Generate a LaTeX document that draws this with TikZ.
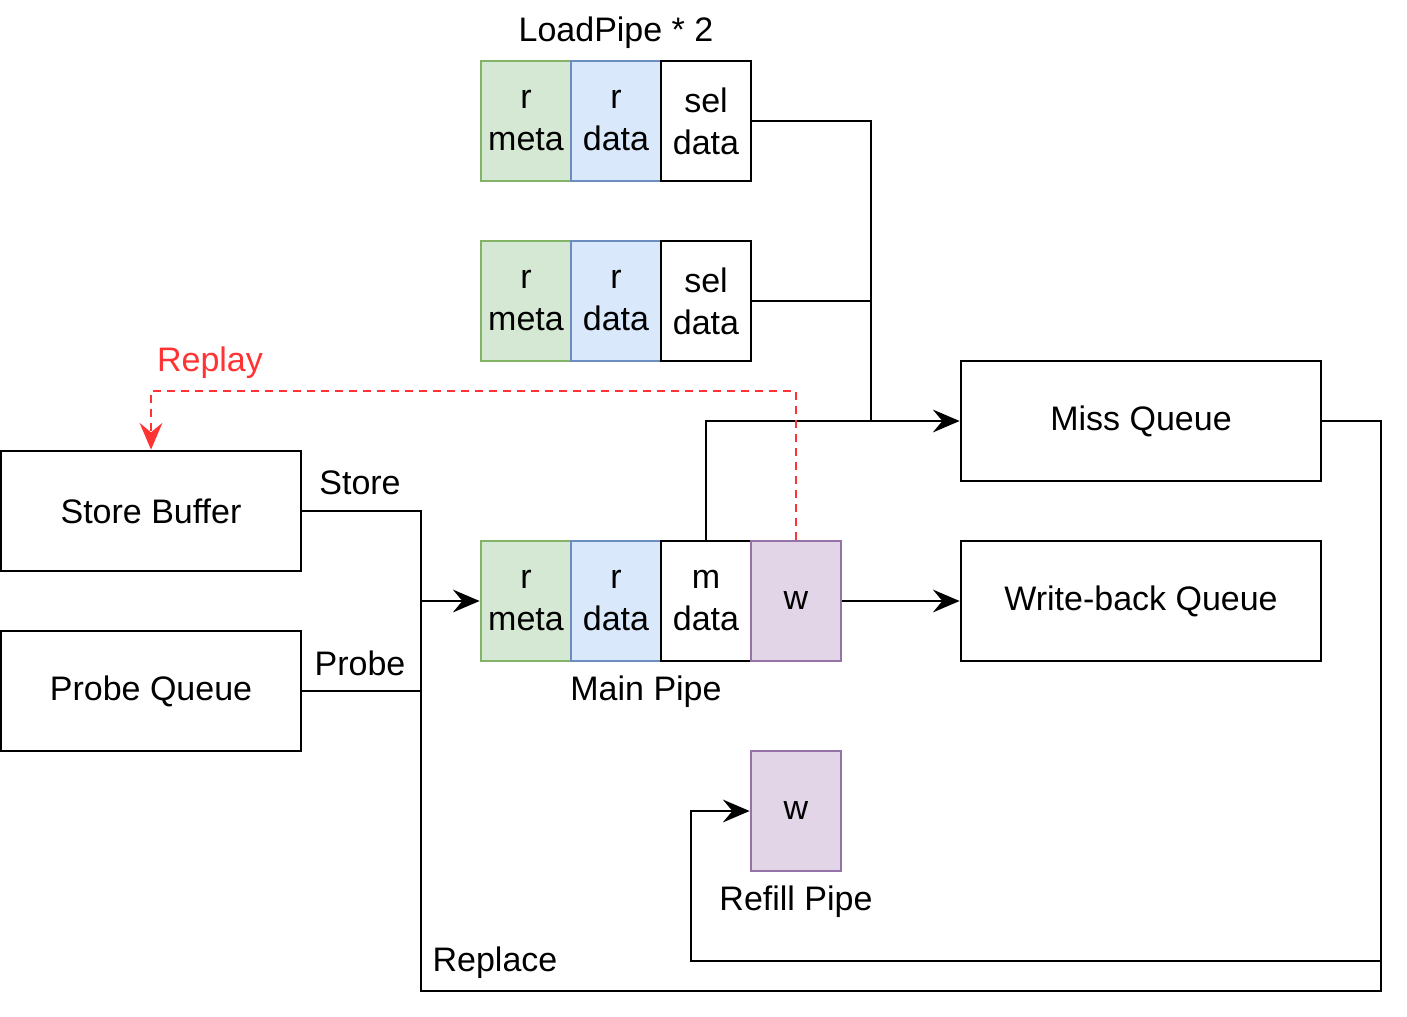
\documentclass[tikz,border=0pt]{standalone}
\usepackage{fontspec}
\setmainfont{Liberation Sans}
\usetikzlibrary{arrows.meta}
\definecolor{gf}{HTML}{D5E8D4}\definecolor{gd}{HTML}{82B366}
\definecolor{bf}{HTML}{DAE8FC}\definecolor{bd}{HTML}{6C8EBF}
\definecolor{pf}{HTML}{E1D5E7}\definecolor{pd}{HTML}{9673A6}
\definecolor{rep}{HTML}{FF3333}
\begin{document}
\begin{tikzpicture}[x=0.75pt,y=-0.75pt,line width=2pt,
  font=\fontsize{25.5}{31.5}\selectfont,
  box/.style={draw,minimum width=67.5pt,minimum height=90pt,align=center,inner sep=0pt},
  big/.style={draw,minimum width=270pt,minimum height=90pt,inner sep=0pt},
  sbig/.style={draw,minimum width=225pt,minimum height=90pt,inner sep=0pt},
  gr/.style={box,fill=gf,draw=gd},bl/.style={box,fill=bf,draw=bd},pu/.style={box,fill=pf,draw=pd},
  arr/.style={-{Stealth[length=20pt,width=17pt,inset=7pt]}},
  lbl/.style={inner sep=0pt}]
\useasboundingbox (0,0) rectangle (1407,1017);
% load pipes
\node[gr] (a1) at (526,121) {r\\meta};
\node[bl] (a2) at (616,121) {r\\data};
\node[box] (a3) at (706,121) {sel\\data};
\node[lbl] (lp) at (616,33) {LoadPipe * 2};
\node[gr] (b1) at (526,301) {r\\meta};
\node[bl] (b2) at (616,301) {r\\data};
\node[box] (b3) at (706,301) {sel\\data};
% queues
\node[big] (mq) at (1141,421) {Miss Queue};
\node[big] (wb) at (1141,601) {Write-back Queue};
\node[sbig] (sb) at (151,511) {Store Buffer};
\node[sbig] (pq) at (151,691) {Probe Queue};
% main pipe
\node[gr] (m1) at (526,601) {r\\meta};
\node[bl] (m2) at (616,601) {r\\data};
\node[box] (m3) at (706,601) {m\\data};
\node[pu] (m4) at (796,601) {w};
\node[lbl] (mp) at (646,692) {Main Pipe};
\node[pu] (rw) at (796,811) {w};
\node[lbl] (rp) at (796,902) {Refill Pipe};
% connectors
\coordinate (j) at (871,421);
\draw (a3.east) -| (j);
\draw (b3.east) -- (871,301);
\draw[arr] (m3.north) |- (mq.west);
\draw[arr] (m4.east) -- (wb.west);
\draw[rep,dashed,dash pattern=on 6pt off 4.5pt,arr] (m4.north) |- (151,391) -- (sb.north);
\node[lbl,text=rep] (rl) at (210,363) {Replay};
\draw[arr] (sb.east) -- (421,511) |- (m1.west);
\node[lbl] (sl) at (360,483) {Store};
\draw (pq.east) -- (421,691);
\node[lbl] (pl) at (360,663) {Probe};
\draw (mq.east) -- (1381,421) |- (421,991) -- (421,601);
\node[lbl] (rl2) at (495,963) {Replace};
\draw[arr] (1381,961) -| (691,811) -- (rw.west);
\end{tikzpicture}
\end{document}
